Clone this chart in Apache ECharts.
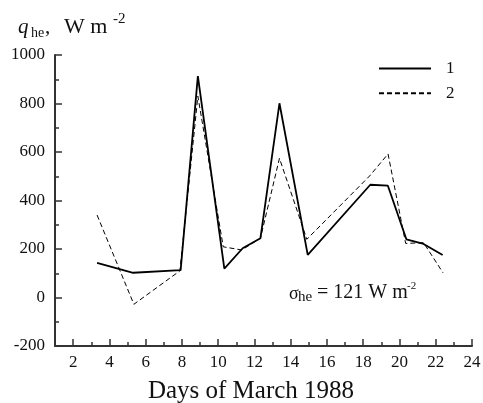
<!DOCTYPE html>
<html>
<head>
<meta charset="utf-8">
<script src="https://cdn.jsdelivr.net/npm/echarts@6/dist/echarts.min.js"></script>
<style>html,body{margin:0;padding:0;background:#fff}#c{width:483px;height:403px}</style>
</head>
<body>
<div id="c"></div>
<script>
// Data (day of March 1988, flux W m-2)
const days1 = [3.32, 5.31, 7.93, 8.88, 10.34, 11.35, 12.33, 13.38, 14.94, 18.39, 19.36, 20.38, 21.33, 22.38];
const vals1 = [143, 102, 113, 913, 119, 203, 244, 801, 176, 465, 461, 240, 221, 175];
const days2 = [3.32, 5.35, 7.89, 8.88, 10.28, 11.30, 12.33, 13.38, 14.89, 18.35, 19.37, 20.34, 21.33, 22.40];
const vals2 = [340, -28, 110, 830, 209, 196, 244, 574, 240, 501, 592, 223, 226, 102];
const xMajorTicks = [2, 4, 6, 8, 10, 12, 14, 16, 18, 20, 22, 24];
const xMinorTicks = [3, 5, 7, 9, 11, 13, 15, 17, 19, 21, 23];
const seriesNames = ['1', '2'];

const serif = '"Liberation Serif", "Times New Roman", serif';
const ink = '#111';
const chart = echarts.init(document.getElementById('c'));
const pair = (xs, ys) => xs.map((x, i) => [x, ys[i]]);

chart.setOption({
  animation: false,
  grid: { left: 55, right: 11, top: 55, bottom: 57, containLabel: false, outerBoundsMode: 'none' },
  legend: {
    orient: 'vertical', left: 373, top: 55, itemWidth: 52, itemHeight: 17, itemGap: 7.7,
    itemStyle: { opacity: 0 },
    textStyle: { fontFamily: serif, fontSize: 17, color: ink, padding: [0, 0, 0, 10] },
    data: seriesNames
  },
  xAxis: [{
    type: 'value', min: 1, max: 24,
    name: 'Days of March 1988', nameLocation: 'middle', nameGap: 33,
    nameTextStyle: { fontFamily: serif, fontSize: 25, color: ink, padding: [0, 25, 0, 0] },
    axisLine: { show: true, onZero: false, lineStyle: { color: '#333', width: 2 } },
    axisTick: { show: true, inside: true, length: 7, customValues: xMajorTicks, lineStyle: { color: '#333', width: 1.5 } },
    axisLabel: { customValues: xMajorTicks, fontFamily: serif, fontSize: 17, color: ink, margin: 8 },
    splitLine: { show: false }
  }, {
    type: 'value', min: 1, max: 24, position: 'bottom', gridIndex: 0,
    axisLine: { show: false, onZero: false },
    axisTick: { show: true, inside: true, length: 4, customValues: xMinorTicks, lineStyle: { color: '#333', width: 1.5 } },
    axisLabel: { show: false },
    splitLine: { show: false }
  }],
  yAxis: {
    type: 'value', min: -200, max: 1000, interval: 200,
    axisLine: { show: true, onZero: false, lineStyle: { color: '#333', width: 2 } },
    axisTick: { show: true, inside: true, length: 7, lineStyle: { color: '#333', width: 1.5 } },
    minorTick: { show: true, splitNumber: 2, length: 4, lineStyle: { color: '#333', width: 1.5 } },
    axisLabel: { fontFamily: serif, fontSize: 17, color: ink, margin: 10, formatter: v => String(v) },
    splitLine: { show: false }
  },
  series: [{
    name: seriesNames[0], type: 'line', xAxisIndex: 0, data: pair(days1, vals1),
    symbol: 'none', lineStyle: { color: '#000', width: 1.8 }, itemStyle: { color: '#000' }
  }, {
    name: seriesNames[1], type: 'line', xAxisIndex: 0, data: pair(days2, vals2),
    symbol: 'none', lineStyle: { color: '#000', width: 1, type: [5, 3] }, itemStyle: { color: '#000' }
  }],
  graphic: [
    { type: 'text', left: 18, top: 17, style: { text: 'q', font: 'italic 21px ' + serif, fill: ink } },
    { type: 'text', left: 31, top: 26, style: { text: 'he', font: '14px ' + serif, fill: ink } },
    { type: 'text', left: 45, top: 17, style: { text: ',', font: '21px ' + serif, fill: ink } },
    { type: 'text', left: 64, top: 16, style: { text: 'W m', font: '22px ' + serif, fill: ink } },
    { type: 'text', left: 113, top: 12, style: { text: '-2', font: '15px ' + serif, fill: ink } },
    { type: 'text', left: 289, top: 285, style: { text: 'σ', font: '18px ' + serif, fill: ink } },
    { type: 'text', left: 298, top: 290, style: { text: 'he', font: '15px ' + serif, fill: ink } },
    { type: 'text', left: 317, top: 283, style: { text: '= 121 W m', font: '20px ' + serif, fill: ink } },
    { type: 'text', left: 407, top: 281, style: { text: '-2', font: '11px ' + serif, fill: ink } }
  ]
});
</script>
</body>
</html>
